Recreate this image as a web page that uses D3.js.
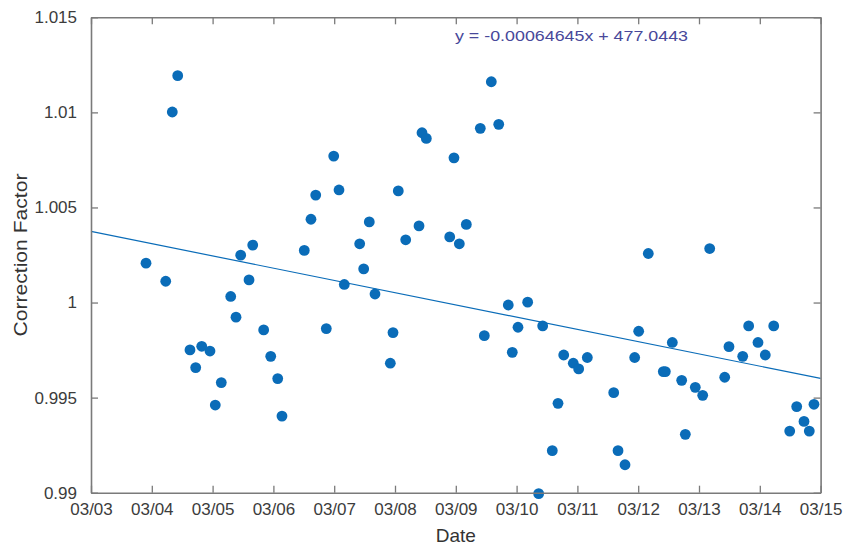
<!DOCTYPE html>
<html>
<head>
<meta charset="utf-8">
<script src="https://cdn.jsdelivr.net/npm/d3@7/dist/d3.min.js"></script>
<style>
  html, body { margin: 0; padding: 0; background: #fff; }
  svg { display: block; }
  text { font-family: "Liberation Sans", Arial, Helvetica, sans-serif; }
</style>
</head>
<body>
<svg id="chart" width="844" height="547"></svg>
<script>
// ---- data (day of March 2016, correction factor) ----
const days = [3.905, 4.229, 4.337, 4.426, 4.628, 4.722, 4.821, 4.957, 5.044, 5.143,
  5.298, 5.385, 5.462, 5.599, 5.660, 5.840, 5.956, 6.071, 6.141, 6.508,
  6.618, 6.696, 6.870, 6.992, 7.079, 7.166, 7.419, 7.485, 7.577, 7.671,
  7.923, 7.967, 8.054, 8.176, 8.395, 8.444, 8.515, 8.900, 8.970, 9.058,
  9.173, 9.403, 9.469, 9.584, 9.706, 9.863, 9.929, 10.023, 10.182, 10.363,
  10.429, 10.587, 10.681, 10.775, 10.932, 11.021, 11.163, 11.597, 11.668, 11.783,
  11.942, 12.008, 12.166, 12.413, 12.446, 12.561, 12.715, 12.775, 12.939, 13.061,
  13.176, 13.423, 13.493, 13.719, 13.817, 13.970, 14.090, 14.229, 14.492, 14.607,
  14.727, 14.814, 14.891];
const factors = [1.00207, 1.00112, 1.01002, 1.01193, 0.99751, 0.99658, 0.99770, 0.99745, 0.99461, 0.99579,
  1.00032, 0.99923, 1.00249, 1.00119, 1.00302, 0.99856, 0.99717, 0.99600, 0.99403, 1.00274,
  1.00438, 1.00565, 0.99863, 1.00770, 1.00592, 1.00095, 1.00309, 1.00177, 1.00424, 1.00045,
  0.99681, 0.99842, 1.00587, 1.00330, 1.00403, 1.00893, 1.00863, 1.00345, 1.00761, 1.00309,
  1.00411, 1.00916, 0.99826, 1.01161, 1.00937, 0.99987, 0.99738, 0.99870, 1.00002, 0.98995,
  0.99877, 0.99221, 0.99470, 0.99724, 0.99681, 0.99651, 0.99711, 0.99526, 0.99221, 0.99147,
  0.99711, 0.99849, 1.00258, 0.99637, 0.99637, 0.99790, 0.99591, 0.99307, 0.99554, 0.99512,
  1.00284, 0.99607, 0.99768, 0.99717, 0.99877, 0.99790, 0.99724, 0.99877, 0.99324, 0.99453,
  0.99375, 0.99324, 0.99465];
// fitted line end points (day, value)
const fitDays = [3, 15];
const fitValues = [1.00374, 0.99601];
const equationText = "y = -0.00064645x + 477.0443";
const xTickDays = [3, 4, 5, 6, 7, 8, 9, 10, 11, 12, 13, 14, 15];
const xTickLabels = ["03/03", "03/04", "03/05", "03/06", "03/07", "03/08", "03/09",
  "03/10", "03/11", "03/12", "03/13", "03/14", "03/15"];
const yTicks = [0.99, 0.995, 1, 1.005, 1.01, 1.015];
const yTickLabels = ["0.99", "0.995", "1", "1.005", "1.01", "1.015"];
const xTitle = "Date";
const yTitle = "Correction Factor";

// ---- helpers ----
const toDate = d => new Date(Date.UTC(2016, 2, 1) + (d - 1) * 864e5);

const svg = d3.select("#chart");
const L = 91, R = 820.6, T = 17.3, B = 492.7;
const x = d3.scaleUtc().domain([toDate(3), toDate(15)]).range([L, R]);
const y = d3.scaleLinear().domain([0.99, 1.015]).range([B, T]);

const axisColor = "#7a7a7a";
const textColor = "#3c3c3c";
const markColor = "#0a6cb8";

// axes
const xAxisB = d3.axisBottom(x).tickValues(xTickDays.map(toDate))
  .tickFormat((d, i) => xTickLabels[i]).tickSizeInner(-7).tickSizeOuter(0).tickPadding(14);
const xAxisT = d3.axisTop(x).tickValues(xTickDays.map(toDate))
  .tickFormat("").tickSizeInner(-7).tickSizeOuter(0);
const yAxisL = d3.axisLeft(y).tickValues(yTicks)
  .tickFormat((d, i) => yTickLabels[i]).tickSizeInner(-7).tickSizeOuter(0).tickPadding(14);
const yAxisR = d3.axisRight(y).tickValues(yTicks)
  .tickFormat("").tickSizeInner(-7).tickSizeOuter(0);

function style(g) {
  g.select(".domain").attr("stroke", axisColor).attr("stroke-width", 1.6);
  g.selectAll(".tick line").attr("stroke", axisColor).attr("stroke-width", 1.3);
  g.selectAll(".tick text").attr("fill", textColor)
    .style("font-size", "17px").style("font-family", "'Liberation Sans', Arial, sans-serif");
}

// regression line
const line = d3.line().x(d => x(toDate(d[0]))).y(d => y(d[1]));
svg.append("path")
  .datum(fitDays.map((d, i) => [d, fitValues[i]]))
  .attr("d", line).attr("fill", "none")
  .attr("stroke", markColor).attr("stroke-width", 1.2);

// points
svg.append("g").selectAll("circle")
  .data(days.map((d, i) => [d, factors[i]]))
  .join("circle")
  .attr("cx", d => x(toDate(d[0])))
  .attr("cy", d => y(d[1]))
  .attr("r", 5.4)
  .attr("fill", markColor);

svg.append("g").attr("transform", `translate(0,${B})`).call(xAxisB).call(style)
  .selectAll(".tick text").attr("dy", "0.5em");
svg.append("g").attr("transform", `translate(0,${T})`).call(xAxisT).call(style);
svg.append("g").attr("transform", `translate(${L},0)`).call(yAxisL).call(style);
svg.append("g").attr("transform", `translate(${R},0)`).call(yAxisR).call(style);

// equation
svg.append("text")
  .attr("x", 571.5).attr("y", 41)
  .attr("text-anchor", "middle")
  .attr("fill", "#48489a")
  .style("font-size", "15.5px")
  .attr("textLength", 233).attr("lengthAdjust", "spacingAndGlyphs")
  .text(equationText);

// axis titles
svg.append("text")
  .attr("x", (L + R) / 2).attr("y", 542)
  .attr("text-anchor", "middle")
  .attr("fill", "#333")
  .style("font-size", "19px")
  .text(xTitle);

svg.append("text")
  .attr("transform", `translate(27,${(T + B) / 2}) rotate(-90)`)
  .attr("text-anchor", "middle")
  .attr("fill", "#333")
  .style("font-size", "19px")
  .attr("textLength", 163).attr("lengthAdjust", "spacingAndGlyphs")
  .text(yTitle);
</script>
</body>
</html>
